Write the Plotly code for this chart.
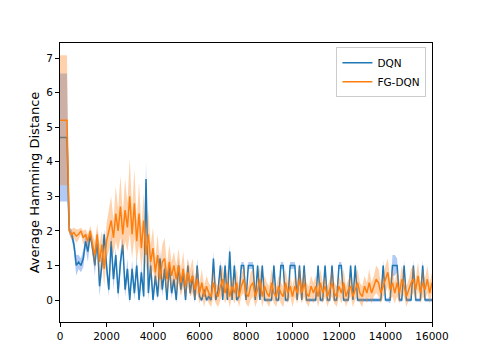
import plotly.graph_objects as go

# training steps, one reading every 100 steps
steps = list(range(0, 16001, 100))

dqn_mean = [
    4.7, 4.7, 4.7, 4.7, 2.0,
    1.9, 1.6, 1.0, 1.1, 1.0,
    1.2, 1.7, 1.4, 1.9, 1.5,
    1.0, 1.8, 0.4, 1.0, 1.9,
    1.0, 0.3, 1.7, 0.6, 1.3,
    0.2, 1.1, 1.6, 0.3, 0.9,
    0.0, 0.9, 0.2, 1.0, 0.0,
    0.8, 0.1, 3.5, 0.2, 1.0,
    0.0, 0.7, 0.1, 1.2, 0.3,
    0.9, 0.0, 1.0, 0.2, 0.6,
    0.0, 1.0, 0.3, 0.8, 0.0,
    1.0, 0.2, 0.7, 0.0, 1.0,
    0.1, 0.0, 0.3, 0.0, 0.1,
    0.0, 1.2, 0.0, 0.3, 1.0,
    0.0, 1.0, 0.0, 1.4, 0.0,
    1.0, 0.0, 0.1, 1.0, 1.0,
    0.0, 1.0, 1.0, 1.0, 0.0,
    1.0, 0.0, 1.0, 0.0, 0.0,
    0.0, 0.0, 1.0, 0.0, 0.0,
    1.0, 1.0, 0.0, 0.0, 1.0,
    1.0, 1.0, 0.0, 1.0, 0.0,
    1.0, 0.0, 0.0, 0.0, 0.0,
    0.0, 1.0, 0.0, 0.0, 1.0,
    0.0, 0.0, 1.0, 0.0, 0.0,
    1.0, 1.0, 0.0, 0.0, 0.0,
    1.0, 0.0, 1.0, 0.0, 0.0,
    0.0, 0.0, 0.0, 0.0, 0.0,
    0.0, 0.0, 0.0, 0.0, 1.0,
    0.0, 0.0, 0.0, 1.0, 1.0,
    1.0, 0.0, 0.0, 1.0, 0.0,
    0.0, 0.0, 1.0, 0.0, 0.0,
    0.0, 1.0, 0.0, 0.0, 0.0,
    0.0,
]
dqn_spread = [
    1.85, 1.85, 1.85, 1.85, 0.1,
    0.15, 0.2, 0.3, 0.2, 0.2,
    0.25, 0.2, 0.3, 0.15, 0.2,
    0.3, 0.2, 0.3, 0.25, 0.15,
    0.3, 0.2, 0.25, 0.3, 0.2,
    0.2, 0.3, 0.2, 0.2, 0.3,
    0.1, 0.25, 0.2, 0.3, 0.1,
    0.2, 0.1, 0.5, 0.2, 0.3,
    0.1, 0.2, 0.1, 0.3, 0.2,
    0.2, 0.1, 0.2, 0.15, 0.2,
    0.1, 0.2, 0.15, 0.2, 0.1,
    0.2, 0.1, 0.2, 0.1, 0.2,
    0.1, 0.05, 0.1, 0.05, 0.1,
    0.05, 0.2, 0.05, 0.1, 0.15,
    0.05, 0.15, 0.05, 0.2, 0.05,
    0.15, 0.05, 0.1, 0.1, 0.1,
    0.05, 0.1, 0.1, 0.1, 0.05,
    0.1, 0.05, 0.1, 0.05, 0.05,
    0.05, 0.05, 0.1, 0.05, 0.05,
    0.1, 0.1, 0.05, 0.05, 0.1,
    0.1, 0.1, 0.05, 0.1, 0.05,
    0.1, 0.05, 0.05, 0.05, 0.05,
    0.05, 0.1, 0.05, 0.05, 0.1,
    0.05, 0.05, 0.1, 0.05, 0.05,
    0.1, 0.1, 0.05, 0.05, 0.05,
    0.1, 0.05, 0.1, 0.05, 0.05,
    0.05, 0.05, 0.05, 0.05, 0.05,
    0.05, 0.05, 0.05, 0.05, 0.15,
    0.05, 0.05, 0.1, 0.3, 0.3,
    0.2, 0.05, 0.05, 0.15, 0.05,
    0.05, 0.05, 0.15, 0.05, 0.05,
    0.05, 0.15, 0.05, 0.05, 0.05,
    0.05,
]

fg_mean = [
    5.2, 5.2, 5.2, 5.2, 2.0,
    1.9, 1.95, 1.85, 1.9, 2.0,
    1.8, 1.9, 1.7, 2.0, 1.6,
    1.3, 1.9, 1.1, 1.6, 0.9,
    1.7, 2.0, 2.3, 1.8, 2.5,
    2.0, 2.7, 1.9, 2.6, 2.1,
    3.0, 1.9, 2.8, 1.7, 2.5,
    1.5, 2.3, 1.3, 1.9, 1.1,
    1.5, 0.8, 1.3, 0.6, 1.1,
    1.2, 0.6, 1.1, 0.7, 1.0,
    0.6, 1.0, 0.5, 0.9, 0.4,
    0.8, 0.5, 0.7, 0.3, 0.6,
    0.2, 0.5, 0.1, 0.4, 0.2,
    0.1, 0.5, 0.2, 0.1, 0.4,
    0.6, 0.2, 0.5, 0.1, 0.4,
    0.2, 0.5, 0.1, 0.4, 0.6,
    0.2, 0.1, 0.4, 0.5, 0.1,
    0.3, 0.6, 0.1, 0.4, 0.2,
    0.1, 0.5, 0.2, 0.1, 0.4,
    0.2, 0.1, 0.5, 0.2, 0.4,
    0.1, 0.4, 0.2, 0.6, 0.2,
    0.5, 0.2, 0.1, 0.4, 0.2,
    0.4, 0.1, 0.5, 0.2, 0.4,
    0.1, 0.3, 0.5, 0.2, 0.1,
    0.4, 0.2, 0.5, 0.1, 0.3,
    0.4, 0.1, 0.3, 0.5, 0.2,
    0.1, 0.4, 0.2, 0.5, 0.2,
    0.4, 0.6, 0.5, 0.2, 0.4,
    0.6, 0.8, 0.3, 0.5, 0.2,
    0.5, 0.2, 0.6, 0.4, 0.1,
    0.3, 0.5, 0.6, 0.3, 0.7,
    0.2, 0.5, 0.3, 0.6, 0.2,
    0.5,
]
fg_spread = [
    1.88, 1.88, 1.88, 1.88, 0.1,
    0.15, 0.15, 0.2, 0.15, 0.1,
    0.2, 0.15, 0.2, 0.15, 0.3,
    0.4, 0.3, 0.5, 0.4, 0.5,
    0.5, 0.6, 0.7, 0.5, 0.8,
    0.6, 0.9, 0.6, 0.9, 0.7,
    1.1, 0.7, 1.0, 0.6, 0.9,
    0.6, 0.8, 0.5, 0.7, 0.5,
    0.6, 0.4, 0.6, 0.4, 0.5,
    0.6, 0.4, 0.5, 0.4, 0.4,
    0.4, 0.5, 0.4, 0.5, 0.3,
    0.4, 0.4, 0.5, 0.3, 0.4,
    0.3, 0.4, 0.3, 0.3, 0.3,
    0.3, 0.4, 0.3, 0.3, 0.4,
    0.4, 0.3, 0.4, 0.3, 0.3,
    0.3, 0.4, 0.3, 0.3, 0.4,
    0.3, 0.3, 0.4, 0.4, 0.3,
    0.3, 0.4, 0.3, 0.3, 0.3,
    0.3, 0.4, 0.3, 0.3, 0.3,
    0.3, 0.3, 0.4, 0.3, 0.3,
    0.3, 0.3, 0.3, 0.4, 0.3,
    0.4, 0.3, 0.3, 0.3, 0.3,
    0.3, 0.3, 0.4, 0.3, 0.3,
    0.3, 0.3, 0.4, 0.3, 0.3,
    0.3, 0.3, 0.4, 0.3, 0.3,
    0.3, 0.3, 0.3, 0.4, 0.3,
    0.3, 0.3, 0.3, 0.4, 0.3,
    0.3, 0.4, 0.4, 0.3, 0.3,
    0.4, 0.4, 0.3, 0.4, 0.3,
    0.4, 0.3, 0.4, 0.3, 0.3,
    0.3, 0.4, 0.4, 0.3, 0.4,
    0.3, 0.4, 0.3, 0.4, 0.3,
    0.3,
]

series = [
    ("DQN", dqn_mean, dqn_spread, "#1f77b4", "rgba(100,149,237,0.5)"),
    ("FG-DQN", fg_mean, fg_spread, "#ff7f0e", "rgba(255,127,14,0.35)"),
]

fig = go.Figure()
for name, mean, spread, col, band in series:
    lo = [m - s for m, s in zip(mean, spread)]
    hi = [m + s for m, s in zip(mean, spread)]
    fig.add_trace(go.Scatter(x=steps, y=lo, mode="lines", line=dict(width=0),
                             showlegend=False, hoverinfo="skip"))
    fig.add_trace(go.Scatter(x=steps, y=hi, mode="lines", line=dict(width=0),
                             fill="tonexty", fillcolor=band,
                             showlegend=False, hoverinfo="skip"))
    fig.add_trace(go.Scatter(x=steps, y=mean, mode="lines", name=name,
                             line=dict(color=col, width=1.5)))

axis_style = dict(showline=True, linecolor="black", linewidth=1, mirror=True,
                  ticks="outside", ticklen=4, tickcolor="black", showgrid=False,
                  zeroline=False, automargin=False,
                  tickfont=dict(size=10.5, color="black"))

# page body adds an 8px offset, so the figure is a little smaller than the window
fig.update_layout(
    width=472, height=352,
    margin=dict(l=52, r=48, t=35, b=38),
    paper_bgcolor="white", plot_bgcolor="white",
    font=dict(family="DejaVu Sans", size=10.5, color="black"),
    legend=dict(x=0.985, y=0.985, xanchor="right", yanchor="top",
                traceorder="normal",
                bgcolor="white", bordercolor="#cccccc", borderwidth=1,
                font=dict(size=10.5)),
)
fig.update_xaxes(range=[0, 16000], tick0=0, dtick=2000, tickformat="d",
                 **axis_style)
fig.update_yaxes(range=[-0.636, 7.434], tick0=0, dtick=1,
                 title=dict(text="Average Hamming Distance", standoff=3),
                 **axis_style)

fig.write_html("out.html")
